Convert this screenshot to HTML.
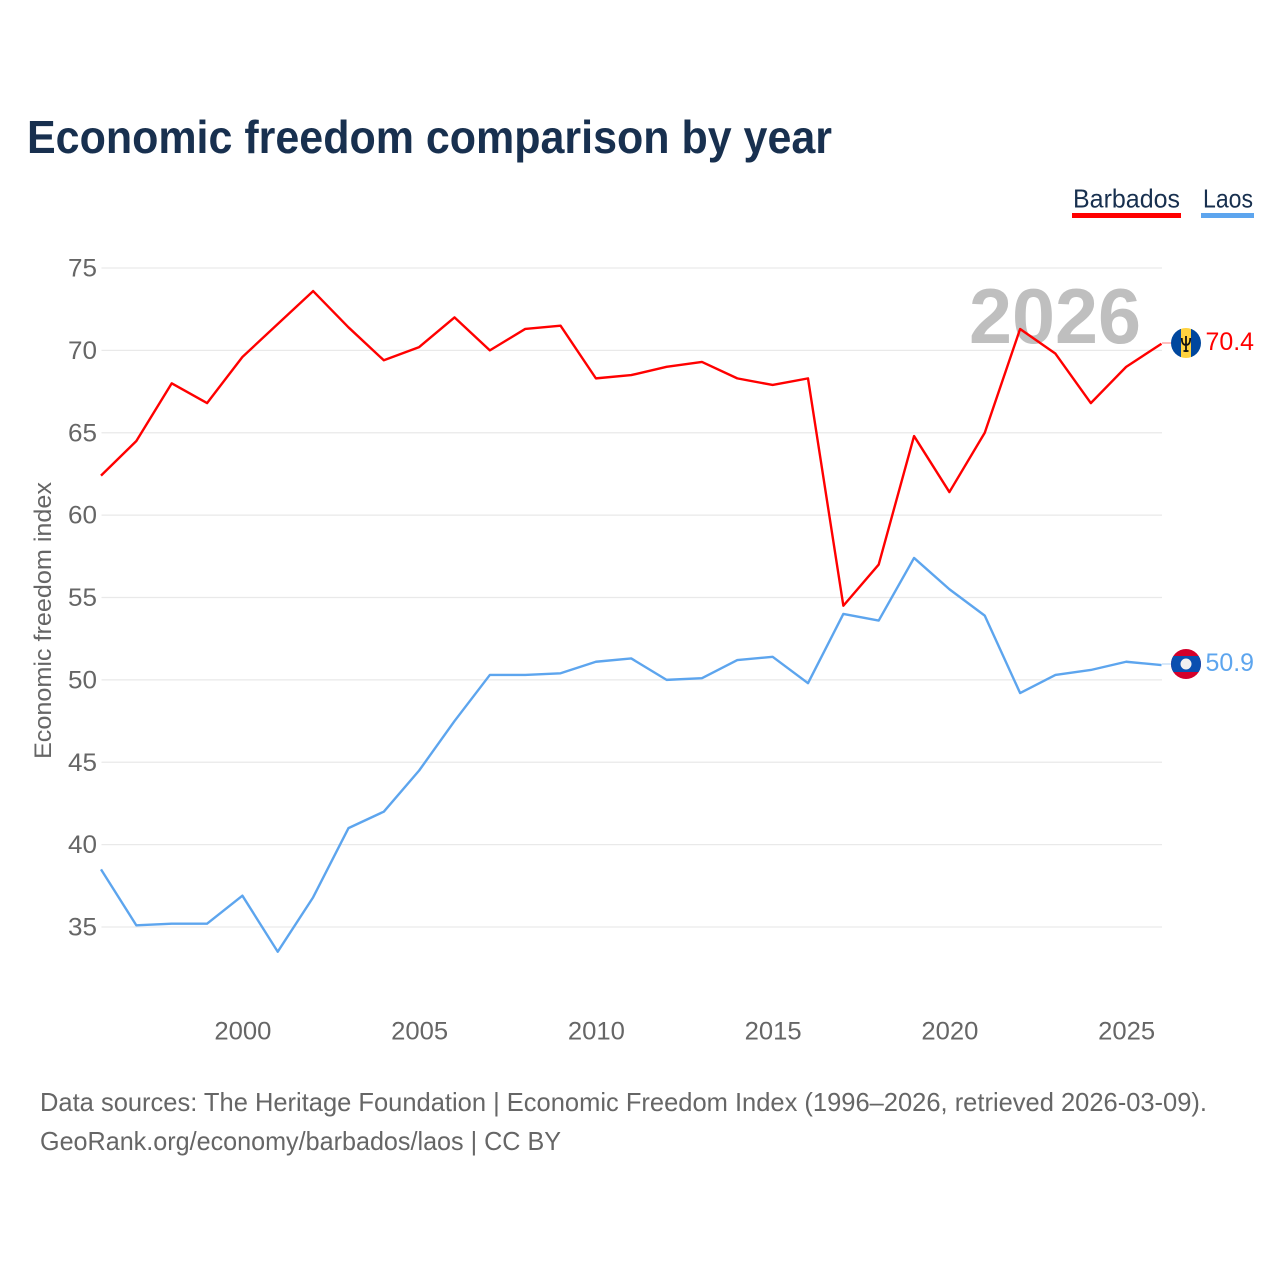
<!DOCTYPE html>
<html lang="en">
<head>
<meta charset="utf-8">
<title>Economic freedom comparison by year</title>
<style>
html,body{margin:0;padding:0;background:#fff;}
svg{display:block;font-family:"Liberation Sans",sans-serif;}
</style>
</head>
<body>
<svg id="chart" width="1280" height="1280" viewBox="0 0 1280 1280" xmlns="http://www.w3.org/2000/svg">
<rect x="0" y="0" width="1280" height="1280" fill="#ffffff"/>
<text x="27" y="153" font-size="46" font-weight="700" fill="#18304f" textLength="805" lengthAdjust="spacingAndGlyphs">Economic freedom comparison by year</text>
<g id="grid"></g>
<text x="969" y="343" font-size="78" font-weight="700" fill="#bfbfbf" textLength="172" lengthAdjust="spacingAndGlyphs">2026</text>
<g id="yticks"></g>
<g id="xticks"></g>
<text transform="translate(51,759) rotate(-90)" x="0" y="0" font-size="24" fill="#666666" textLength="277" lengthAdjust="spacingAndGlyphs">Economic freedom index</text>
<g id="series"></g>
<g>
<g>
<text x="1073" y="207.5" font-size="26" fill="#18304f" textLength="107" lengthAdjust="spacingAndGlyphs">Barbados</text>
<rect x="1072" y="213" width="109" height="5" fill="#ff0000"/>
</g>
<g>
<text x="1203" y="207.5" font-size="26" fill="#18304f" textLength="50" lengthAdjust="spacingAndGlyphs">Laos</text>
<rect x="1201" y="213" width="53" height="5" fill="#5da5ee"/>
</g>
</g>
<defs>
<clipPath id="flag-clip-b"><circle cx="1186" cy="343" r="15"/></clipPath>
<clipPath id="flag-clip-l"><circle cx="1186" cy="664" r="15"/></clipPath>
</defs>
<line id="conn-b" x1="1162" y1="343" x2="1171" y2="343" stroke="#ff0000" stroke-opacity="0.5" stroke-width="1"/>
<line id="conn-l" x1="1162" y1="664" x2="1171" y2="664" stroke="#5da5ee" stroke-opacity="0.5" stroke-width="1"/>
<g clip-path="url(#flag-clip-b)">
<rect x="1171" y="328" width="10" height="30" fill="#00479e"/>
<rect x="1191" y="328" width="10" height="30" fill="#00479e"/>
<rect x="1181" y="328" width="10" height="30" fill="#ffd23f"/>
<path d="M1186 336V352M1181.8 338c0 5.5 1.5 7 4.2 7s4.2-1.5 4.2-7M1183.5 351h5" fill="none" stroke="#111" stroke-width="1.8"/>
</g>
<g clip-path="url(#flag-clip-l)">
<rect x="1171" y="649" width="30" height="30" fill="#d4002a"/>
<rect x="1171" y="656" width="30" height="16" fill="#0a4fb0"/>
<circle cx="1186" cy="664" r="5.5" fill="#f0f0f0"/>
</g>
<text x="1205.5" y="350" font-size="25" fill="#ff0000" textLength="48.5" lengthAdjust="spacingAndGlyphs">70.4</text>
<text x="1205.5" y="671" font-size="25" fill="#5da5ee" textLength="48.5" lengthAdjust="spacingAndGlyphs">50.9</text>
<text x="40" y="1111" font-size="26" fill="#666666" textLength="1167" lengthAdjust="spacingAndGlyphs">Data sources: The Heritage Foundation | Economic Freedom Index (1996–2026, retrieved 2026-03-09).</text>
<text x="40" y="1150" font-size="26" fill="#666666" textLength="521" lengthAdjust="spacingAndGlyphs">GeoRank.org/economy/barbados/laos | CC BY</text>
</svg>
<script>
const years = [1996,1997,1998,1999,2000,2001,2002,2003,2004,2005,2006,2007,2008,2009,2010,2011,2012,2013,2014,2015,2016,2017,2018,2019,2020,2021,2022,2023,2024,2025,2026];
const barbados = [62.4,64.5,68.0,66.8,69.6,71.6,73.6,71.4,69.4,70.2,72.0,70.0,71.3,71.5,68.3,68.5,69.0,69.3,68.3,67.9,68.3,54.5,57.0,64.8,61.4,65.0,71.3,69.8,66.8,69.0,70.4];
const laos = [38.5,35.1,35.2,35.2,36.9,33.5,36.8,41.0,42.0,44.5,47.5,50.3,50.3,50.4,51.1,51.3,50.0,50.1,51.2,51.4,49.8,54.0,53.6,57.4,55.5,53.9,49.2,50.3,50.6,51.1,50.9];
const yTickLabels = [35,40,45,50,55,60,65,70,75];
const xTickLabels = [2000,2005,2010,2015,2020,2025];

const NS = 'http://www.w3.org/2000/svg';
function xScale(year){ return 101 + (year - 1996) * (1161.5 - 101) / 30; }
function yScale(v){ return 268 + (75 - v) * (927 - 268) / 40; }
function make(tag, attrs){
  const el = document.createElementNS(NS, tag);
  for (const k in attrs) el.setAttribute(k, attrs[k]);
  return el;
}
const grid = document.getElementById('grid');
const yG = document.getElementById('yticks');
const xG = document.getElementById('xticks');
const seriesG = document.getElementById('series');

yTickLabels.forEach(function(t){
  const line = make('line', {x1:101.5, x2:1162, y1:yScale(t), y2:yScale(t), stroke:'#e9e9e9', 'stroke-width':1.3});
  
  
  grid.appendChild(line);
  const label = make('text', {x:97, y:yScale(t)+8.5, 'text-anchor':'end', 'font-size':25, fill:'#666666', textLength:29, lengthAdjust:'spacingAndGlyphs'});
  
  
  label.textContent = t;
  yG.appendChild(label);
});
xTickLabels.forEach(function(t){
  const label = make('text', {x:xScale(t)+0.5, y:1039.5, 'text-anchor':'middle', 'font-size':25, fill:'#666666', textLength:57, lengthAdjust:'spacingAndGlyphs'});
  
  
  label.textContent = t;
  xG.appendChild(label);
});
function pathFor(values){
  return values.map(function(v,i){ return (i ? 'L' : 'M') + xScale(years[i]).toFixed(2) + ' ' + yScale(v).toFixed(2); }).join(' ');
}
const lineB = make('path', {d:pathFor(barbados), fill:'none', stroke:'#ff0000', 'stroke-width':2.4, 'stroke-linejoin':'round'});


seriesG.appendChild(lineB);
const lineL = make('path', {d:pathFor(laos), fill:'none', stroke:'#5da5ee', 'stroke-width':2.4, 'stroke-linejoin':'round'});


seriesG.appendChild(lineL);
</script>
</body>
</html>
